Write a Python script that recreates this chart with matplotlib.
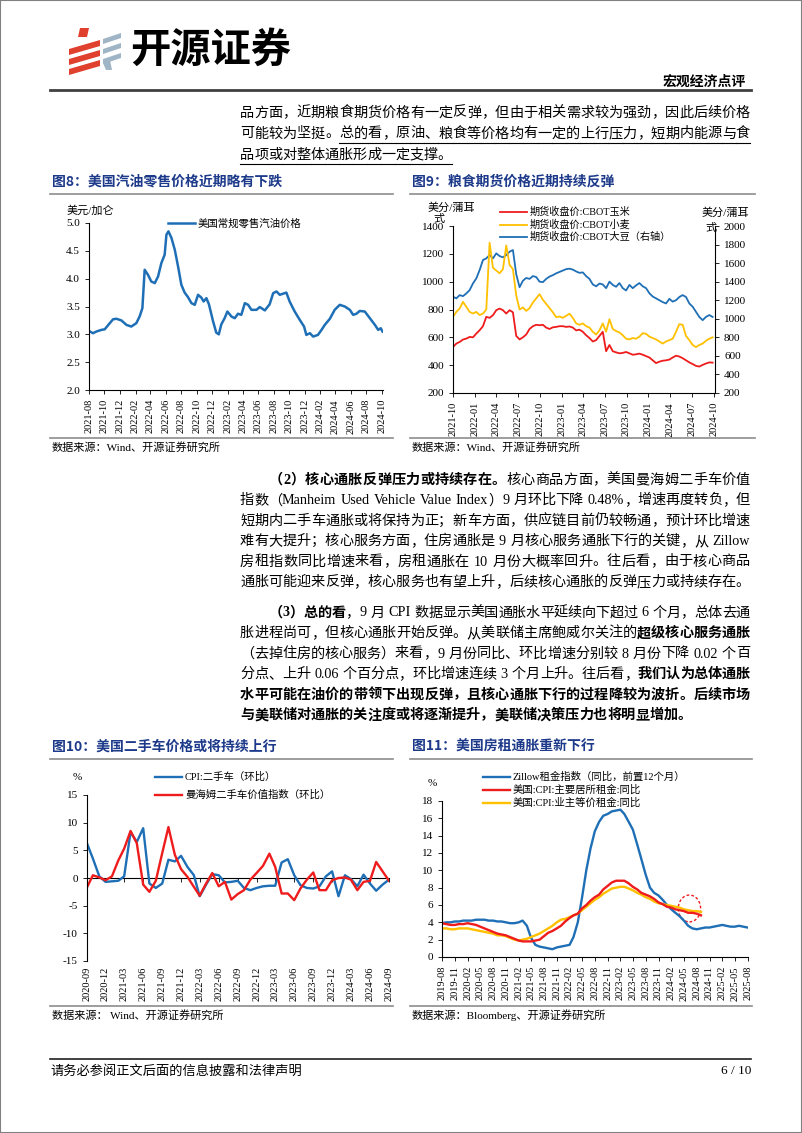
import matplotlib

matplotlib.use("Agg")
import matplotlib.dates as mdates
import matplotlib.pyplot as plt
import numpy as np
import pandas as pd
from matplotlib.lines import Line2D
from matplotlib.patches import Ellipse, Polygon, Rectangle
from matplotlib.ticker import FormatStrFormatter, NullFormatter

plt.rcParams["font.family"] = ["Liberation Serif", "Noto Sans CJK SC"]
plt.rcParams["axes.unicode_minus"] = False

W, H = 802, 1133
BLUE = "#1f6fb6"
RED = "#ee1c1c"
GOLD = "#ffc000"
NAVY = "#1d3a8a"
SANS = ["Noto Sans CJK SC", "DejaVu Sans"]

# ---- chart 8: US regular retail gasoline, USD/gallon ----
gas_dates = [
    "2021-08-01", "2021-08-17", "2021-08-30", "2021-09-19", "2021-10-02", "2021-10-22", "2021-11-04",
    "2021-11-17", "2021-12-07", "2021-12-27", "2022-01-15", "2022-02-04", "2022-02-17", "2022-02-28",
    "2022-03-09", "2022-03-22", "2022-04-04", "2022-04-18", "2022-05-01", "2022-05-14", "2022-05-27",
    "2022-06-03", "2022-06-11", "2022-06-23", "2022-07-06", "2022-07-19", "2022-08-01", "2022-08-14",
    "2022-08-27", "2022-09-10", "2022-09-23", "2022-10-06", "2022-10-19", "2022-10-28", "2022-11-08",
    "2022-11-18", "2022-12-04", "2022-12-17", "2022-12-27", "2023-01-06", "2023-01-19", "2023-01-30",
    "2023-02-15", "2023-02-28", "2023-03-13", "2023-03-26", "2023-04-09", "2023-04-22", "2023-05-05",
    "2023-05-25", "2023-06-07", "2023-06-27", "2023-07-16", "2023-07-30", "2023-08-12", "2023-08-25",
    "2023-09-07", "2023-09-20", "2023-10-03", "2023-10-23", "2023-11-12", "2023-11-29", "2023-12-08",
    "2023-12-22", "2024-01-04", "2024-01-23", "2024-02-06", "2024-02-19", "2024-03-10", "2024-03-29",
    "2024-04-18", "2024-05-08", "2024-05-28", "2024-06-10", "2024-06-23", "2024-07-06", "2024-07-26",
    "2024-08-15", "2024-09-04", "2024-09-17", "2024-09-27", "2024-10-04",
]
gas_price = [
    3.06, 3.02, 3.05, 3.08, 3.09, 3.20, 3.27, 3.28, 3.25, 3.17,
    3.14, 3.20, 3.32, 3.47, 4.16, 4.07, 3.95, 3.92, 4.04, 4.28, 4.43, 4.79, 4.85, 4.73, 4.52,
    4.22, 3.89, 3.75, 3.67, 3.56, 3.53, 3.71, 3.66, 3.59, 3.65, 3.54, 3.24, 3.03, 3.00,
    3.18, 3.29, 3.41, 3.32, 3.29, 3.37, 3.35, 3.56, 3.53, 3.44, 3.44, 3.49, 3.43, 3.54, 3.74,
    3.77, 3.71, 3.73, 3.75, 3.59, 3.41, 3.26, 3.14, 2.99, 3.02,
    2.96, 2.99, 3.08, 3.17, 3.28, 3.44, 3.53, 3.50, 3.44, 3.35, 3.37, 3.42, 3.41, 3.29, 3.17,
    3.08, 3.11, 3.05,
]

# ---- chart 9: CBOT futures close, cents/bushel, sampled every two weeks from 2021-10-01 ----
grain_start = "2021-10-01"
corn = [
    531, 555, 567, 584, 591, 603, 600, 627, 651, 680, 747, 740, 759, 795, 807, 795, 771, 795, 780, 610,
    585, 600, 620, 660, 680, 690, 687, 690, 670, 660, 672, 675, 680, 680, 675, 678, 670, 650, 655, 640,
    615, 595, 570, 580, 610, 640, 500, 545, 500, 492, 485, 488, 495, 485, 475, 478, 483, 475, 465, 455,
    435, 415, 425, 432, 435, 440, 455, 468, 462, 450, 435, 420, 408, 395, 390, 402, 412, 420, 418,
]
wheat = [
    747, 783, 807, 855, 819, 783, 771, 783, 760, 771, 800, 1280, 1100, 1080, 1060, 1090, 1260, 1120, 1090, 900,
    800, 815, 790, 810, 850, 880, 910, 870, 840, 810, 780, 745, 750, 740, 755, 770, 740, 700, 690, 700,
    680, 670, 640, 620, 650, 700, 640, 730, 660, 645, 635, 615, 590, 585, 595, 590, 605, 630, 625, 605,
    595, 585, 570, 555, 570, 580, 590, 640, 695, 690, 610, 580, 545, 530, 545, 555, 575, 590, 600,
]
soybean = [
    1237, 1220, 1255, 1244, 1273, 1309, 1381, 1435, 1525, 1633, 1651, 1687, 1651, 1705, 1676, 1662, 1687,
    1723, 1741, 1480, 1340, 1410, 1440, 1430, 1460, 1450, 1400, 1395, 1430, 1455, 1470, 1490, 1505, 1520,
    1535, 1540, 1530, 1510, 1495, 1500, 1460, 1430, 1370, 1350, 1380, 1370, 1330, 1400, 1365, 1345, 1385,
    1330, 1305, 1365, 1330, 1360, 1385, 1350, 1330, 1275, 1240, 1220, 1200, 1180, 1165, 1215, 1185, 1200,
    1235, 1255, 1235, 1165, 1130, 1075, 1020, 985, 1020, 1040, 1020,
]

# ---- chart 10: used car prices, MoM %, monthly from 2020-09 ----
used_start = "2020-09-01"
cpi_used_car = [
    6.4, 3.5, 0.3, -0.7, -0.6, -0.5, 0.3, 8.3, 6.5, 9.0, -1.0, -1.8, -1.0, 3.3, 3.0, 4.0, 2.0, 0.5,
    -3.3, -1.2, 0.7, 0.5, -0.8, -0.7, -0.5, -1.8, -2.2, -1.8, -1.5, -1.4, -1.4, 2.8, 3.4, 0.5, -1.3,
    -1.8, -1.9, -1.5, 0.3, 1.2, -3.3, 0.5, -0.2, -1.5, 0.6, -1.0, -2.3, -1.2, -0.3,
]
manheim = [
    -1.8, 0.5, 0.1, -0.4, 0.3, 3.2, 5.3, 8.5, 6.3, -1.2, -2.5, -0.5, 4.5, 9.2, 4.2, 1.6, 0.2, -1.6,
    -3.2, -1.0, 0.9, -1.5, -0.7, -3.9, -2.9, -2.2, -0.3, 0.9, 2.2, 4.4, 2.0, -2.8, -2.8, -4.0, -1.9,
    -0.3, 1.0, -2.2, -2.2, -0.4, 0.0, 0.1, -0.3, -2.2, -0.7, -0.5, 2.9, 1.2, -0.5,
]

# ---- chart 11: rent inflation, YoY %, monthly from 2019-08 ----
rent_start = "2019-08-01"
zillow_lead12 = [
    3.9, 4.0, 4.0, 4.1, 4.1, 4.2, 4.2, 4.2, 4.3, 4.3, 4.3, 4.2, 4.2, 4.1, 4.1, 4.0, 3.9, 3.9, 4.0, 4.2,
    3.6, 2.2, 1.4, 1.2, 1.1, 1.0, 0.9, 1.1, 1.2, 1.3, 1.4, 2.3, 4.0, 6.8, 10.0, 12.5, 14.5, 15.6, 16.3,
    16.5, 16.8, 16.9, 17.0, 16.5, 15.6, 14.7, 13.0, 11.3, 9.5, 8.0, 7.4, 7.1, 6.6, 6.0, 5.5, 5.1, 4.7,
    4.2, 3.6, 3.3, 3.2, 3.3, 3.4, 3.4, 3.5, 3.6, 3.7, 3.6, 3.5, 3.5, 3.6, 3.5, 3.4,
]
cpi_rent = [
    3.9, 3.8, 3.7, 3.7, 3.8, 3.8, 3.9, 3.8, 3.7, 3.5, 3.3, 3.1, 2.9, 2.7, 2.6, 2.5, 2.3, 2.1, 1.9, 1.8,
    1.8, 1.8, 1.9, 2.0, 2.4, 2.8, 3.0, 3.3, 3.6, 4.1, 4.5, 4.8, 5.0, 5.6, 6.0, 6.5, 6.9, 7.2, 7.8, 8.2,
    8.6, 8.8, 8.8, 8.8, 8.5, 8.1, 7.8, 7.4, 7.2, 7.0, 6.7, 6.3, 6.1, 5.8, 5.7, 5.5, 5.4, 5.3, 5.1, 5.1,
    5.0, 4.8,
]
cpi_oer = [
    3.3, 3.3, 3.2, 3.2, 3.3, 3.3, 3.3, 3.2, 3.1, 3.0, 2.9, 2.8, 2.7, 2.5, 2.5, 2.4, 2.2, 2.0, 1.9, 2.0,
    2.1, 2.3, 2.5, 2.7, 3.0, 3.3, 3.6, 4.0, 4.3, 4.4, 4.6, 4.8, 5.0, 5.4, 5.8, 6.2, 6.6, 6.9, 7.3, 7.6,
    7.9, 8.0, 8.1, 8.1, 7.9, 7.7, 7.4, 7.2, 6.9, 6.7, 6.4, 6.2, 6.1, 6.0, 5.9, 5.8, 5.7, 5.5, 5.4, 5.3,
    5.3, 5.2,
]

# ---- page text ----
para_top = [
    [("品方面，近期粮食期货价格有一定反弹，但由于相关需求较为强劲，因此后续价格", "")],
    [("可能较为坚挺。", ""), ("总的看，原油、粮食等价格均有一定的上行压力，短期内能源与食", "u")],
    [("品项或对整体通胀形成一定支撑。", "u")],
]
para_2 = [
    [("（2）核心通胀反弹压力或持续存在。", "b"), ("核心商品方面，美国曼海姆二手车价值", "")],
    [("指数（Manheim Used Vehicle Value Index）9 月环比下降 0.48%，增速再度转负，但", "")],
    [("短期内二手车通胀或将保持为正；新车方面，供应链目前仍较畅通，预计环比增速", "")],
    [("难有大提升；核心服务方面，住房通胀是 9 月核心服务通胀下行的关键，从 Zillow", "")],
    [("房租指数同比增速来看，房租通胀在 10 月份大概率回升。往后看，由于核心商品", "")],
    [("通胀可能迎来反弹，核心服务也有望上升，后续核心通胀的反弹压力或持续存在。", "")],
]
para_3 = [
    [("（3）总的看", "b"), ("，9 月 CPI 数据显示美国通胀水平延续向下超过 6 个月，总体去通", "")],
    [("胀进程尚可，但核心通胀开始反弹。从美联储主席鲍威尔关注的", ""), ("超级核心服务通胀", "b")],
    [("（去掉住房的核心服务）来看，9 月份同比、环比增速分别较 8 月份下降 0.02 个百", "")],
    [("分点、上升 0.06 个百分点，环比增速连续 3 个月上升。往后看，", ""), ("我们认为总体通胀", "b")],
    [("水平可能在油价的带领下出现反弹，且核心通胀下行的过程降较为波折。后续市场", "b")],
    [("与美联储对通胀的关注度或将逐渐提升，美联储决策压力也将明显增加。", "b")],
]


def fx(x):
    return x / W


def fy(y):
    return 1 - y / H


def box(l, t, r, b):
    return [l / W, 1 - b / H, (r - l) / W, (b - t) / H]


def hline(fig, x0, x1, y, color="#8c8c8c", lw=1.2):
    fig.add_artist(Line2D([fx(x0), fx(x1)], [fy(y), fy(y)], color=color, lw=lw))


def put(fig, x, y, s, size=8, ha="left", **kw):
    return fig.text(fx(x), fy(y), s, fontsize=size, ha=ha, va="center", **kw)


def body_line(fig, renderer, parts, x0, y, x1=750, justify=True, size=10.2):
    tokens = []
    for text, style in parts:
        run = ""
        for ch in text:
            if ord(ch) < 128 and ch != " ":
                run += ch
                continue
            if run:
                tokens.append((run, style))
                run = ""
            tokens.append((ch, style))
        if run:
            tokens.append((run, style))
    items = []
    for s, style in tokens:
        if s == " ":
            items.append((None, size * 0.3 * 100 / 72, style))
            continue
        t = put(fig, x0, y, s, size=size, weight="bold" if "b" in style else "normal")
        items.append((t, t.get_window_extent(renderer).width, style))
    total = sum(w for _, w, _ in items)
    gap = (x1 - x0 - total) / (len(items) - 1) if justify else 0.0
    x = x0
    for i, (t, w, style) in enumerate(items):
        if t is not None:
            t.set_x(fx(x))
        if "u" in style:
            end = x + w + (gap if i < len(items) - 1 else 0)
            hline(fig, x, end, y + 9, color="black", lw=0.8)
        x += w + gap


def base_axes(ax):
    for side in ("top", "right"):
        ax.spines[side].set_visible(False)
    for side in ("left", "bottom"):
        ax.spines[side].set_linewidth(0.8)
    ax.tick_params(labelsize=8, length=3, width=0.6)


def month_ticks(ax, start, end, step):
    ticks = pd.date_range(start, end, freq=f"{step}MS")
    ax.set_xticks(ticks)
    ax.set_xticklabels([t.strftime("%Y-%m") for t in ticks], rotation=90, fontsize=7.5)
    return ticks


def draw_legend(fig, lines, x, ys, size=7.5):
    for ln, y in zip(lines, ys):
        fig.add_artist(Line2D([fx(x), fx(x + 27)], [fy(y)] * 2, color=ln.get_color(), lw=ln.get_linewidth()))
        put(fig, x + 30, y, ln.get_label(), size=size)


def chart_frame(fig, x0, x1, title, y_title, source, y_src):
    put(fig, x0 + 2, y_title, title, size=10, color=NAVY, weight="bold", family=SANS)
    hline(fig, x0, x1, y_title + 12)
    hline(fig, x0, x1, y_src - 9)
    put(fig, x0 + 2, y_src, source, size=8)


def main() -> None:
    fig = plt.figure(figsize=(W / 100, H / 100), dpi=100)
    fig.patch.set_facecolor("white")
    renderer = fig.canvas.get_renderer()

    # page frame, logo and header
    fig.add_artist(Rectangle((0, 0), 1, 1, transform=fig.transFigure, fill=False, ec="#808080", lw=1.5))
    for k in range(3):
        y0 = 44 + k * 10
        pts = [(69, y0 + 5), (100, y0 - 4), (100, y0 + 2), (69, y0 + 11)]
        fig.add_artist(Polygon([(fx(a), fy(b)) for a, b in pts], closed=True, fc="#e0402e", ec="none"))
        g0 = 35 + k * 10
        pts = [(103, g0 + 4), (121, g0 - 2), (121, g0 + 3), (103, g0 + 9)]
        fig.add_artist(Polygon([(fx(a), fy(b)) for a, b in pts], closed=True, fc="#9fb5c6", ec="none"))
    fig.add_artist(Polygon([(fx(a), fy(b)) for a, b in [(80, 28), (89, 28), (87, 37), (78, 37)]],
                           closed=True, fc="#e0402e", ec="none"))
    fig.add_artist(Polygon([(fx(a), fy(b)) for a, b in [(103, 63), (110, 60), (112, 70), (106, 70)]],
                           closed=True, fc="#9fb5c6", ec="none"))
    put(fig, 130, 50, "开源证券", size=29, weight="bold", family=SANS)
    put(fig, 746, 82, "宏观经济点评", size=10, ha="right", weight="bold", family=SANS)
    hline(fig, 50, 751, 90, color="#404040", lw=2.0)

    # body text
    for i, parts in enumerate(para_top):
        body_line(fig, renderer, parts, 240, 113 + 21 * i, justify=i < 2)
    for i, parts in enumerate(para_2):
        body_line(fig, renderer, parts, 269 if i == 0 else 240, 480 + 20.5 * i)
    for i, parts in enumerate(para_3):
        body_line(fig, renderer, parts, 269 if i == 0 else 240, 613 + 20.5 * i, justify=i < 5)

    # ---- chart 8 ----
    chart_frame(fig, 50, 393, "图8：美国汽油零售价格近期略有下跌", 182, "数据来源：Wind、开源证券研究所", 447)
    ax8 = fig.add_axes(box(89, 223, 383, 390))
    base_axes(ax8)
    (l8,) = ax8.plot(pd.to_datetime(gas_dates), gas_price, color=BLUE, lw=1.8, label="美国常规零售汽油价格")
    ax8.set_ylim(2.0, 5.0)
    ax8.set_yticks(np.arange(2.0, 5.01, 0.5))
    ax8.yaxis.set_major_formatter(FormatStrFormatter("%.1f"))
    ax8.set_xlim(pd.Timestamp("2021-08-01"), pd.Timestamp("2024-10-06"))
    month_ticks(ax8, "2021-08-01", "2024-10-01", 2)
    put(fig, 67, 211, "美元/加仑", size=8)
    draw_legend(fig, [l8], 168, [223])

    # ---- chart 9 ----
    chart_frame(fig, 410, 755, "图9：粮食期货价格近期持续反弹", 182, "数据来源：Wind、开源证券研究所", 447)
    ax9 = fig.add_axes(box(453, 226, 715, 393))
    base_axes(ax9)
    ax9r = ax9.twinx()
    for side in ("top", "left", "bottom"):
        ax9r.spines[side].set_visible(False)
    ax9r.spines["right"].set_linewidth(0.8)
    ax9r.tick_params(labelsize=8, length=3, width=0.6)
    gx = pd.date_range(grain_start, periods=len(corn), freq="14D")
    (lc,) = ax9.plot(gx, corn, color=RED, lw=1.3, label="期货收盘价:CBOT玉米")
    (lw_,) = ax9.plot(gx, wheat, color=GOLD, lw=1.3, label="期货收盘价:CBOT小麦")
    (ls,) = ax9r.plot(gx, soybean, color=BLUE, lw=1.3, label="期货收盘价:CBOT大豆（右轴）")
    ax9.set_zorder(ax9r.get_zorder() + 1)
    ax9.patch.set_visible(False)
    ax9.set_ylim(200, 1400)
    ax9.set_yticks(range(200, 1401, 200))
    ax9r.set_ylim(200, 2000)
    ax9r.set_yticks(range(200, 2001, 200))
    ax9.set_xlim(pd.Timestamp("2021-10-01"), pd.Timestamp("2024-10-07"))
    month_ticks(ax9, "2021-10-01", "2024-10-01", 3)
    put(fig, 428, 208, "美分/蒲耳", size=8)
    put(fig, 433, 219, "式", size=8)
    put(fig, 702, 213, "美分/蒲耳", size=8)
    put(fig, 705, 228, "式", size=8)
    draw_legend(fig, [lc, lw_, ls], 500, [212, 224.5, 237], size=7.3)

    # ---- chart 10 ----
    chart_frame(fig, 50, 393, "图10：美国二手车价格或将持续上行", 747, "数据来源： Wind、开源证券研究所", 1015)
    ax10 = fig.add_axes(box(86.7, 795, 389, 961))
    base_axes(ax10)
    ax10.spines["bottom"].set_visible(False)
    ux = pd.date_range(used_start, periods=len(cpi_used_car), freq="MS")
    (lu,) = ax10.plot(ux, cpi_used_car, color=BLUE, lw=1.7, label="CPI:二手车（环比）")
    (lm,) = ax10.plot(ux, manheim, color=RED, lw=1.7, label="曼海姆二手车价值指数（环比）")
    ax10.set_ylim(-15, 15)
    ax10.set_yticks(range(-15, 16, 5))
    ax10.set_xlim(ux[0], ux[-1])
    ticks10 = month_ticks(ax10, "2020-09-01", "2024-09-01", 3)
    ax10.tick_params(axis="x", length=0, pad=4)
    zero = ax10.secondary_xaxis(0.5)
    zero.set_xticks(mdates.date2num(ticks10))
    zero.xaxis.set_major_formatter(NullFormatter())
    zero.tick_params(axis="x", direction="in", length=3, width=0.6, labelbottom=False, labeltop=False)
    zero.spines["bottom"].set_linewidth(0.8)
    put(fig, 77, 777, "%", size=8, ha="center")
    draw_legend(fig, [lu, lm], 155, [777, 795])

    # ---- chart 11 ----
    chart_frame(fig, 410, 752, "图11：美国房租通胀重新下行", 747, "数据来源：Bloomberg、开源证券研究所", 1015)
    ax11 = fig.add_axes(box(442, 801, 748, 957))
    base_axes(ax11)
    zx = pd.date_range(rent_start, periods=len(zillow_lead12), freq="MS")
    rx = pd.date_range(rent_start, periods=len(cpi_rent), freq="MS")
    (lz,) = ax11.plot(zx, zillow_lead12, color=BLUE, lw=1.7, label="Zillow租金指数（同比，前置12个月）")
    (lo,) = ax11.plot(rx, cpi_oer, color=GOLD, lw=1.7, label="美国:CPI:业主等价租金:同比")
    (lr,) = ax11.plot(rx, cpi_rent, color=RED, lw=1.7, label="美国:CPI:主要居所租金:同比")
    ax11.set_ylim(0, 18)
    ax11.set_yticks(range(0, 19, 2))
    ax11.set_xlim(zx[0], zx[-1] + pd.Timedelta(days=3))
    month_ticks(ax11, "2019-08-01", "2025-08-01", 3)
    ax11.add_patch(Ellipse((mdates.date2num(pd.Timestamp("2024-06-10")), 5.6), width=160, height=3.1,
                           fill=False, ec=RED, lw=1.0, ls=(0, (2, 1.5))))
    put(fig, 432, 784, "%", size=8, ha="center")
    draw_legend(fig, [lz, lr, lo], 483, [777, 790, 803])

    # footer
    hline(fig, 50, 751, 1059, color="#202020", lw=1.2)
    put(fig, 50, 1071, "请务必参阅正文后面的信息披露和法律声明", size=9.5)
    put(fig, 751, 1071, "6 / 10", size=9.5, ha="right")

    fig.savefig("out.png", dpi=100)
    plt.close(fig)


if __name__ == "__main__":
    main()
